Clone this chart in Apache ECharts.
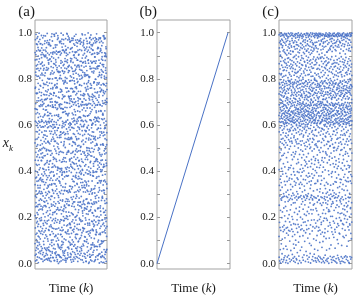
<!DOCTYPE html>
<html><head><meta charset="utf-8">
<script src="https://cdn.jsdelivr.net/npm/echarts@6/dist/echarts.min.js"></script>
<style>html,body{margin:0;padding:0;background:#fff}#c{width:357px;height:300px}</style>
</head><body><div id="c"></div>
<script>
// ---- data (read/estimated from the picture) ----
const panelLabels = ['(a)', '(b)', '(c)'];
const yTickValues = [0, 0.1, 0.2, 0.3, 0.4, 0.5, 0.6, 0.7, 0.8, 0.9, 1.0];
const yLabelValues = [0, 0.2, 0.4, 0.6, 0.8, 1.0];
// panel (a): x_k values (in thousandths), k = index
const aXkMilli = [
523,87,914,342,671,208,759,36,448,882,155,617,293,970,401,764,12,538,829,246,
693,371,58,905,482,127,816,264,649,993,315,572,41,738,196,857,430,669,104,951,
287,612,843,69,375,921,508,177,736,249,598,16,884,463,132,705,357,976,221,540,
811,94,426,667,302,949,183,571,738,29,654,395,862,247,515,78,983,339,606,161,
472,845,213,590,936,64,328,781,447,119,899,256,633,5,718,384,547,926,171,812,
359,705,48,961,232,488,617,143,874,306,755,92,429,998,561,274,836,115,683,407,
26,649,887,314,578,195,743,460,921,83,366,612,257,804,139,495,971,328,681,54,
598,236,772,415,952,107,339,864,513,186,707,44,923,280,638,371,845,160,492,769,
131,953,303,688,21,534,817,249,476,905,362,591,74,728,447,199,866,615,312,988,
741,188,446,892,57,623,275,934,388,711,142,569,825,20,498,356,683,237,914,461,
305,872,519,66,794,233,617,948,152,480,701,39,856,364,593,127,978,412,245,689,
817,458,10,635,293,906,547,174,762,381,48,925,216,669,503,838,97,354,781,592,
166,733,409,987,270,558,83,694,322,845,611,137,467,902,251,776,30,529,860,398,
642,15,897,428,709,186,953,342,575,68,814,267,499,731,111,647,389,964,203,556,
284,925,597,143,468,826,35,712,251,986,433,665,178,540,897,62,309,748,617,125,
903,351,776,522,19,680,247,919,406,153,838,574,296,711,44,489,935,222,666,381,
57,612,273,849,495,731,118,364,957,604,21,786,438,173,552,891,327,68,744,997,
446,185,716,38,966,302,641,474,839,229,589,912,107,373,656,16,802,527,261,684,
771,530,98,339,615,881,208,753,61,492,333,845,686,949,24,418,592,147,870,313,
189,864,642,407,72,957,524,286,616,799,144,431,57,728,381,610,905,243,489,21,
628,309,950,161,782,443,884,13,574,342,969,215,651,519,84,801,362,712,125,887,
394,737,53,597,231,683,126,944,446,700,278,820,26,563,944,199,650,470,37,758,
913,168,489,826,370,10,617,292,853,531,160,734,398,876,614,258,102,983,341,593,
249,573,714,92,896,538,345,781,78,640,417,995,292,139,477,700,835,52,624,186,
678,46,321,964,154,800,687,433,212,915,361,27,757,602,908,316,548,221,763,419,
103,822,586,254,679,397,26,849,560,130,729,461,193,933,66,452,677,890,305,540,
866,379,152,740,509,917,268,602,993,347,83,615,828,383,222,738,14,591,176,992,
530,985,425,13,285,642,771,117,456,864,575,249,496,47,775,566,913,345,701,64,
225,687,804,591,947,186,43,530,315,702,196,937,676,150,419,883,260,124,858,488,
761,120,362,873,51,726,451,998,612,27,804,336,98,920,558,35,697,478,233,643,
443,603,907,216,766,323,840,179,389,947,151,668,522,779,303,849,577,762,10,368,
18,794,547,698,405,971,111,672,832,243,506,85,418,236,987,190,414,39,621,915,
587,269,128,977,638,80,518,295,73,588,721,892,1,645,102,638,917,287,498,154,
832,473,743,38,359,828,231,917,688,412,35,262,856,483,718,376,68,546,801,679,
311,962,600,447,176,555,687,8,355,804,957,629,183,349,919,29,830,234,398,72,
692,145,31,815,904,275,411,756,570,126,304,486,743,62,571,672,191,963,547,868,
127,559,879,339,632,12,998,526,848,245,672,911,26,801,216,440,752,405,80,317,
953,412,690,189,70,746,157,383,96,972,483,143,589,388,938,117,597,873,714,231,
396,836,271,565,924,442,616,731,276,655,833,55,367,671,84,792,332,17,452,606,
47,669,146,990,302,858,92,481,924,37,204,722,952,227,511,656,970,569,186,824,
779,237,459,724,593,187,518,863,167,611,399,528,107,786,443,316,46,248,919,395,
253,914,54,376,831,34,699,317,559,847,725,196,876,15,677,888,542,793,331,659,
601,503,806,137,458,942,269,24,787,415,59,974,346,563,243,135,761,103,612,7,
924,14,617,876,224,649,441,928,381,196,912,281,650,901,409,583,207,697,474,844,
164,743,398,259,997,314,802,130,676,540,315,782,21,482,760,994,379,24,871,270,
418,882,204,696,71,572,168,622,47,969,140,641,906,192,38,278,647,935,562,146,
852,308,538,985,486,828,381,747,854,253,489,72,546,725,836,605,96,484,223,746,
65,590,722,129,651,28,977,270,415,723,858,402,253,970,319,173,835,313,714,518,
694,451,914,336,791,445,207,538,91,175,611,960,677,115,598,453,705,579,156,961,
310,169,81,813,543,929,606,44,758,889,29,335,792,430,874,726,17,879,422,85,
478,932,156,604,287,851,39,713,395,966,220,547,808,131,682,457,7,759,324,590,
887,63,541,249,703,418,976,182,627,84,845,366,511,935,278,652,103,794,440,216,
332,757,481,918,145,589,260,833,52,699,413,967,190,528,743,19,614,871,357,486,
975,212,645,379,821,94,563,290,747,436,11,689,902,267,138,804,525,952,76,630,
149,586,833,28,462,713,355,904,619,247,791,176,432,667,985,309,48,560,745,893,
620,408,268,779,946,161,697,82,524,859,338,603,21,917,473,201,836,376,658,115,
763,40,914,517,235,644,489,968,126,382,702,550,283,842,67,731,452,189,993,311,
204,825,372,686,109,889,31,433,765,298,958,128,616,497,758,394,917,65,541,852,
537,291,737,153,608,348,800,209,941,575,56,484,881,344,170,626,784,27,423,969,
858,127,459,955,73,510,661,881,317,10,719,254,789,592,924,43,367,705,266,618,
95,693,222,564,820,411,147,746,488,632,903,378,98,681,233,541,859,312,906,445,
714,512,963,331,681,23,589,284,852,171,447,813,635,197,394,967,107,773,582,250,
426,841,53,775,190,927,369,658,37,799,266,560,965,71,876,320,634,489,147,713,
951,268,603,112,401,746,504,190,974,421,632,18,731,351,508,249,690,838,45,387,
183,619,876,474,959,291,815,65,392,684,122,857,453,242,771,923,57,594,366,802,
529,75,338,837,621,134,443,995,701,257,576,890,329,16,666,408,185,729,991,228,
808,404,700,219,33,555,870,352,156,829,485,207,943,688,535,85,903,439,616,142,
268,959,152,593,872,311,6,642,517,951,78,736,274,596,152,727,384,967,259,674,
640,331,851,45,714,478,936,232,780,99,340,603,817,152,910,483,241,560,826,31,
117,733,423,924,256,688,97,811,358,577,991,171,41,470,328,876,638,115,452,762,
891,198,620,310,527,868,394,24,662,239,818,429,708,930,189,572,11,855,691,279,
353,575,9,748,975,137,542,755,216,898,461,95,337,815,615,344,779,236,502,938,
686,836,280,490,105,406,963,318,591,49,674,953,587,247,73,918,468,640,139,389,
35,451,767,175,640,817,261,690,478,735,167,313,880,501,756,214,999,88,785,561,
925,265,599,882,357,56,730,128,868,419,536,792,2,389,643,811,337,544,227,694,
472,716,141,401,806,579,191,489,7,301,954,261,724,175,937,499,120,709,977,40,
167,959,809,557,28,915,623,854,674,980,229,650,133,844,438,29,760,395,623,313,
779,384,63,692,483,234,443,16,538,144,413,877,467,990,276,658,523,948,82,845,
246,620,931,112,723,970,69,772,324,761,588,36,906,319,553,184,869,261,466,600,
601,12,500,831,302,667,358,943,871,221,685,149,571,710,82,734,307,607,182,926,
948,527,219,381,908,90,720,257,146,607,39,924,402,50,847,395,975,143,702,485,
379,172,876,728,551,433,826,570,422,955,323,540,208,782,624,161,58,834,396,267,
81,787,461,9,188,786,495,109,694,73,876,260,757,442,167,911,677,326,543,895,
724,306,633,965,846,232,13,895,337,511,742,614,75,979,550,291,799,228,18,633,
536,868,127,283,601,957,686,443,29,798,181,398,843,268,716,449,125,878,661,146,
203,455,973,654,75,370,138,630,972,264,619,995,520,135,398,627,962,514,296,774,
852,60,376,514,740,581,914,205,783,451,35,708,168,687,907,74,349,689,931,410,
617,744,238,845,442,19,543,350,94,936,855,427,634,855,241,810,491,35,587,187,
310,934,586,102,969,699,271,778,501,175,660,286,911,41,614,378,721,881,127,730,
977,202,784,418,329,856,629,3,817,359,480,828,82,497,318,958,186,436,815,547,
74,571,43,690,761,153,472,919,241,687,132,557,974,745,868,126,600,250,978,350,
745,407,931,227,586,515,85,663,399,31,924,211,358,162,447,660,27,774,466,8,
430,840,360,806,99,963,750,274,571,886,755,400,627,818,50,315,944,565,89,914,
189,97,683,473,896,285,406,834,136,449,291,862,35,516,705,862,383,190,645,284,
881,624,170,31,651,728,5,519,956,695,95,644,779,341,986,239,554,829,417,749,
513,318,853,742,421,176,862,98,358,222,569,987,430,6,610,776,138,693,981,61,
27,775,489,306,973,628,317,736,812,585,803,164,223,898,273,421,913,362,558,475,
662,145,976,591,194,40,541,975,261,21,387,707,880,497,133,587,51,745,210,837,
354,910,231,848,506,903,448,154,690,770,939,50,617,183,825,931,480,10,896,602,
805,435,700,59,281,781,198,425,536,118,263,515,345,715,567,62,698,326,754,161
];
// panel (b): straight ramp from 0 to 1
const bK = [0, 1000];
const bXk = [0, 1];
// panel (c): x_k values (in thousandths), k = index
const cXkMilli = [
642,118,991,735,407,28,866,571,253,688,934,782,339,615,179,823,505,957,761,446,
776,12,653,294,918,481,627,843,157,995,712,366,589,676,61,899,527,745,964,318,
903,231,668,797,3,452,985,612,876,144,731,379,558,694,281,818,951,764,493,637,
351,948,708,86,661,539,998,823,275,630,19,784,412,597,859,972,643,199,727,467,
615,286,989,757,43,892,331,679,521,106,936,741,578,650,224,808,400,967,695,773,
159,703,944,627,388,8,850,664,542,993,289,786,614,921,470,567,836,139,748,682,
988,433,721,65,608,878,303,959,652,17,795,515,241,689,584,812,927,166,762,635,
671,26,839,292,726,981,478,603,147,916,753,356,648,593,871,207,997,533,779,622,
419,768,955,112,687,34,884,657,268,991,503,739,610,851,341,553,910,705,183,641,
736,248,973,662,5,815,391,618,946,76,789,524,683,565,867,310,996,154,715,629,
608,962,291,747,14,836,459,677,990,132,781,547,653,904,378,598,859,229,721,641,
985,674,62,772,356,924,611,29,848,513,696,157,758,581,287,889,633,967,440,709,
318,651,977,718,196,2,805,625,482,939,270,794,660,556,873,124,998,407,738,689,
753,36,622,891,537,983,144,665,416,911,789,299,606,572,827,362,949,212,775,648,
664,497,933,276,701,21,856,638,370,994,581,760,181,619,819,98,962,529,792,673,
141,787,952,629,415,9,883,698,576,986,233,714,645,508,845,283,921,343,768,615,
907,321,642,780,57,864,544,681,999,168,727,426,657,588,812,255,943,386,751,602,
692,16,798,471,938,617,294,852,530,990,149,743,660,367,561,879,204,975,734,630,
522,966,705,278,623,40,833,684,451,997,118,785,614,333,594,860,192,919,769,656,
776,305,987,650,139,845,24,697,918,482,762,577,635,263,893,412,956,85,729,611,
633,958,173,717,398,11,872,662,546,984,297,779,621,463,553,816,67,940,741,687,
940,356,786,609,222,30,897,644,509,993,126,756,678,384,585,828,285,965,714,652,
264,699,929,748,475,6,841,613,340,988,170,796,666,536,579,865,102,977,732,626,
711,485,996,651,81,824,350,674,903,239,782,527,640,22,887,291,948,566,766,603,
598,153,959,725,433,17,857,685,312,995,276,740,618,519,810,190,931,371,789,669,
828,620,48,773,398,981,659,214,874,540,704,136,947,693,589,302,989,452,758,637,
365,916,702,170,648,1,832,671,501,999,284,787,627,438,571,896,93,969,745,655,
667,288,942,731,520,33,805,612,395,986,159,776,689,344,597,851,227,913,716,646,
979,606,245,794,473,13,868,633,559,925,118,761,697,327,580,839,289,992,708,654,
743,409,987,678,58,813,531,624,954,201,778,352,663,596,881,147,936,493,726,691,
616,954,295,751,380,4,846,670,514,997,166,793,639,428,563,822,258,901,734,684,
862,657,72,728,459,985,604,281,891,343,767,151,976,646,575,396,932,532,782,694,
311,947,720,193,669,27,859,617,487,990,269,753,634,413,590,807,121,962,799,673,
700,236,983,642,549,15,888,691,365,915,179,779,606,472,556,834,292,968,744,628,
939,661,143,765,402,38,826,650,521,994,287,737,679,336,583,876,214,909,710,619,
784,448,995,636,97,873,318,687,929,255,719,511,656,592,843,181,958,424,771,601,
643,969,275,727,363,10,815,668,496,988,134,791,625,441,568,860,298,944,757,682,
854,612,53,789,526,979,694,209,899,381,746,166,920,663,577,462,998,283,730,639,
432,923,712,148,640,35,837,659,348,991,293,768,603,507,594,881,226,951,777,685,
722,291,964,622,538,20,869,676,417,997,111,783,647,375,552,818,186,930,706,660,
605,981,303,742,477,7,893,634,532,945,245,796,688,392,586,850,152,986,721,657,
915,648,217,759,444,28,820,613,355,993,278,739,671,516,562,877,88,972,786,630,
767,379,989,683,129,838,499,642,941,263,725,541,619,44,864,326,906,585,753,699,
627,960,168,735,420,3,882,656,505,999,287,774,692,341,599,829,234,925,712,644,
811,686,79,794,358,983,610,297,853,451,708,189,967,664,570,434,912,295,763,637,
389,937,747,216,653,18,870,629,488,992,142,780,615,526,576,846,281,957,728,675,
749,276,998,667,542,31,812,698,371,920,160,757,632,409,560,886,233,948,702,651,
658,951,254,784,315,12,847,621,463,985,107,733,686,537,591,895,290,933,760,608,
926,639,190,718,497,41,861,673,382,996,259,797,645,430,555,803,63,979,742,622,
795,347,987,609,154,825,515,690,958,286,776,447,618,25,878,403,943,578,738,664,
13,708,455,992,627,176,862,581,943,348,661,793,239,884,519,685,998,752,101,634,
671,934,284,764,7,511,643,817,987,161,728,394,606,553,870,229,959,418,790,692,
842,599,122,995,683,320,737,24,650,471,918,266,773,610,504,893,186,977,362,720,
356,781,619,58,990,529,701,846,675,293,930,448,764,592,16,822,142,983,655,714,
988,212,657,744,438,33,887,620,568,157,965,703,380,640,275,811,998,491,777,689,
531,652,906,277,722,9,859,690,416,994,192,772,631,588,841,311,947,92,756,606,
766,145,983,637,482,28,805,678,324,951,261,738,695,557,893,427,991,203,785,613,
609,889,345,997,702,128,641,22,770,502,926,289,661,574,828,380,968,170,749,685,
179,729,963,614,525,5,876,694,361,989,253,791,649,586,853,447,912,71,757,622,
895,664,286,738,19,459,988,625,810,136,699,583,942,397,779,218,972,541,711,653,
618,306,995,783,96,836,486,675,929,264,746,561,633,11,866,418,954,185,725,690,
440,959,712,233,666,26,889,643,534,992,118,769,601,579,817,369,938,282,789,677,
731,197,976,657,512,4,850,685,339,986,290,758,619,596,874,458,903,134,766,640,
986,628,151,792,406,37,827,603,552,961,276,711,688,325,845,217,993,484,743,669,
549,673,941,263,734,14,878,617,477,999,109,783,648,566,858,304,985,196,717,630,
803,352,985,686,59,861,517,641,916,242,761,593,611,20,893,471,966,288,704,664,
624,917,188,779,437,10,839,699,310,994,257,744,656,572,868,529,950,140,731,683,
345,981,741,272,607,24,815,666,498,987,163,796,629,584,887,402,924,226,762,648,
763,234,990,645,528,2,872,614,386,957,297,720,676,561,832,449,999,111,785,637,
983,692,65,772,464,989,628,227,846,319,735,178,933,660,596,508,971,283,750,612,
511,650,927,167,781,32,801,687,428,996,279,759,603,551,884,340,941,205,728,671,
738,301,986,621,81,853,479,654,975,248,792,534,639,18,829,391,962,156,716,697,
632,944,258,712,376,6,896,670,541,988,138,774,612,589,864,457,919,291,747,659,
398,975,721,205,642,27,823,686,517,992,269,755,693,560,841,317,953,127,787,615,
780,262,997,661,433,15,867,601,345,936,184,730,682,574,808,502,985,295,764,644,
986,606,114,746,488,31,880,639,573,968,231,769,665,307,852,419,998,176,720,687,
503,688,955,284,794,12,818,623,462,984,148,741,607,593,870,355,927,67,779,674,
719,137,991,650,397,855,524,694,944,287,778,557,628,8,899,430,957,243,735,618,
646,922,301,783,446,22,834,679,353,990,196,727,611,580,815,491,986,272,753,663,
371,963,708,158,691,3,869,627,539,995,254,762,642,567,883,412,939,104,798,654,
756,286,982,613,499,36,847,690,329,971,173,736,659,586,826,543,999,221,771,605,
994,631,87,777,422,25,811,662,508,947,293,714,697,385,863,165,989,454,745,648,
522,674,938,247,760,17,889,608,440,985,132,782,620,597,842,308,963,199,728,686,
769,334,997,649,129,828,473,683,911,275,750,546,636,9,876,366,958,217,791,601,
627,957,268,725,351,1,853,671,527,990,187,785,614,558,831,491,929,282,742,668,
412,986,733,186,657,30,896,640,364,976,259,762,687,575,818,517,944,79,709,626,
749,219,988,616,494,11,809,693,323,967,289,778,651,593,874,436,996,152,737,663,
992,646,173,790,405,23,838,629,557,952,237,718,675,343,886,118,983,468,758,607,
538,684,921,277,767,8,862,617,451,999,169,749,604,582,848,375,970,213,725,691,
726,318,981,668,113,871,502,639,940,251,795,563,623,29,813,424,985,195,771,657,
659,949,234,733,387,5,880,613,518,994,145,756,698,556,857,474,908,297,786,642,
361,978,714,208,677,34,826,654,485,989,282,741,628,591,893,336,962,123,753,610,
787,263,993,603,529,19,851,686,410,928,179,770,645,569,829,356,987,246,738,680,
986,622,76,762,443,29,819,673,540,975,225,724,609,317,866,192,997,478,781,656,
514,697,945,252,749,13,875,632,372,991,160,797,667,577,837,426,955,288,713,625,
743,355,987,681,98,844,466,614,923,270,788,531,650,6,887,397,970,146,760,606,
637,932,285,718,416,2,858,692,551,996,204,766,616,598,822,304,946,172,742,669,
423,968,750,167,633,31,801,660,494,984,287,735,683,562,879,358,920,239,794,641,
775,243,994,652,537,20,833,619,386,959,131,758,640,584,851,447,989,215,729,673,
987,665,108,773,348,27,864,601,521,937,264,711,696,378,815,180,998,479,766,618
];

// ---- chart ----
const FONT = "'Liberation Serif', 'Times New Roman', serif";
const TXT = '#1a1a1a';
const BLUE = '#4a72c6';
const gridBoxes = [
  {left: 35, top: 20, width: 72, height: 257},
  {left: 157, top: 20, width: 73, height: 257},
  {left: 279, top: 20, width: 73, height: 257}
];
const xMax = [aXkMilli.length, 1028, cXkMilli.length];

const aData = aXkMilli.map((v, k) => [k, v / 1000]);
const bData = bK.map((k, i) => [k, bXk[i]]);
const cData = cXkMilli.map((v, k) => [k, v / 1000]);

const chart = echarts.init(document.getElementById('c'), null, {renderer: 'canvas'});

const grid = gridBoxes.map(g => Object.assign({show: true, borderColor: '#a3a3a3', borderWidth: 1, backgroundColor: 'transparent'}, g));

const xAxis = gridBoxes.map((g, i) => ({
  type: 'value', gridIndex: i, min: 0, max: xMax[i],
  axisLine: {show: false}, axisTick: {show: false}, axisLabel: {show: false}, splitLine: {show: false},
  name: 'Time ({i|k})', nameLocation: 'middle', nameGap: 13,
  nameTextStyle: {fontFamily: FONT, fontSize: 13, color: TXT,
    rich: {i: {fontFamily: FONT, fontSize: 13, color: TXT, fontStyle: 'italic'}}}
}));

const yAxis = [];
gridBoxes.forEach((g, i) => {
  const base = {
    type: 'value', gridIndex: i, min: -0.023, max: 1.055,
    axisLine: {show: false}, splitLine: {show: false},
    axisTick: {show: true, inside: true, length: 3, customValues: yTickValues, lineStyle: {color: '#999', width: 1}}
  };
  const left = Object.assign({}, base, {
    position: 'left',
    axisLabel: {show: true, customValues: yLabelValues, formatter: v => Number(v).toFixed(1), margin: 3,
      fontFamily: FONT, fontSize: 11, color: TXT}
  });
  if (i === 0) {
    Object.assign(left, {
      name: '{x|x}{k|k}', nameLocation: 'middle', nameRotate: 0, nameGap: 22,
      nameTextStyle: {rich: {
        x: {fontFamily: FONT, fontSize: 14, fontStyle: 'italic', color: TXT, verticalAlign: 'bottom', padding: [0, 0, 3, 0]},
        k: {fontFamily: FONT, fontSize: 9, fontStyle: 'italic', color: TXT, verticalAlign: 'bottom'}
      }}
    });
  }
  const right = Object.assign({}, base, {position: 'right', axisLabel: {show: false}});
  yAxis.push(left, right);
});

const title = panelLabels.map((t, i) => ({
  text: t, right: 357 - gridBoxes[i].left, top: 5, padding: 0,
  textStyle: {fontFamily: FONT, fontSize: 15, fontWeight: 'normal', color: TXT}
}));

chart.setOption({
  animation: false,
  backgroundColor: '#fff',
  title, grid, xAxis, yAxis,
  series: [
    {type: 'scatter', xAxisIndex: 0, yAxisIndex: 0, data: aData, symbolSize: 1.8, itemStyle: {color: BLUE, opacity: 0.9}, silent: true},
    {type: 'line', xAxisIndex: 1, yAxisIndex: 2, data: bData, symbol: 'none', lineStyle: {color: BLUE, width: 1}, silent: true},
    {type: 'scatter', xAxisIndex: 2, yAxisIndex: 4, data: cData, symbolSize: 1.8, itemStyle: {color: BLUE, opacity: 0.9}, silent: true}
  ]
});
</script>
</body></html>
